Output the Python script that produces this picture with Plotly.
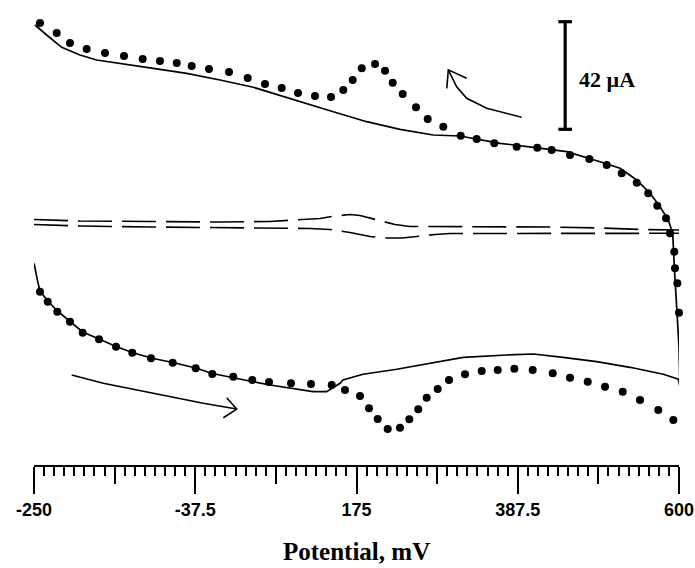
import plotly.graph_objects as go

# ---------------- data (potential in mV, current in µA) ----------------
# dotted curve (CV with analyte), full scan: forward (lower) -> vertex -> reverse (upper)
dot_mv = [-242.1, -231.9, -219.3, -202.6, -185.8, -164.3, -141.9, -120.5, -95.8, -67.2,
          -36.9, -15.0, 12.6, 37.7, 59.7, 88.7, 115.0, 142.3, 159.8, 179.6,
          191.5, 202.9, 216.1, 232.3, 244.6, 256.4, 267.5, 282.0, 296.9, 318.0,
          340.0, 361.1, 383.0, 407.2, 433.6, 456.4, 479.7, 502.5, 525.8, 548.6,
          572.7, 592.5, 600.4, 600.4, 601.3, 600.0, 597.8, 594.7, 593.8, 588.1,
          582.9, 571.4, 559.5, 544.3, 524.5, 504.7, 481.8, 456.4, 432.2, 413.3,
          386.1, 356.6, 333.4, 312.3, 289.4, 268.8, 253.4, 235.9, 222.7, 212.6,
          199.4, 181.9, 170.0, 157.6, 141.4, 120.3, 97.9, 76.4, 54.4, 31.6,
          7.0, -19.4, -42.2, -61.9, -84.0, -106.8, -131.4, -156.4, -180.6, -202.6,
          -220.1, -242.1]
dot_ua = [-24.08, -27.99, -31.89, -35.79, -40.09, -42.66, -45.55, -47.89, -50.08, -51.80,
          -53.98, -56.21, -57.26, -58.55, -59.33, -59.84, -60.11, -60.50, -62.45, -64.79,
          -69.59, -73.77, -77.67, -77.17, -73.89, -69.98, -65.46, -62.06, -58.55, -56.32,
          -55.04, -54.64, -54.14, -54.64, -55.93, -57.65, -59.21, -61.16, -63.11, -66.35,
          -70.26, -74.16, -66.35, -53.59, -43.99, -32.28, -20.80, -14.95, -8.47, -1.29,
          4.57, 9.48, 14.32, 18.46, 22.13, 25.37, 27.71, 29.27, 31.23, 32.12,
          32.51, 33.84, 35.52, 36.81, 40.32, 43.33, 47.89, 53.08, 57.49, 62.18,
          64.79, 63.11, 58.55, 54.64, 51.91, 52.30, 53.47, 55.42, 56.99, 59.33,
          61.67, 62.84, 64.01, 65.18, 65.96, 66.74, 67.92, 69.09, 70.65, 72.99,
          76.89, 80.80]

# solid curve (CV), full scan
solid_mv = [-250.0, -248.0, -244.7, -242.1, -231.9, -219.3, -202.6, -185.8, -164.3, -141.9,
            -120.5, -95.8, -67.2, -36.9, -15.0, 12.6, 37.3, 61.0, 88.7, 117.7,
            135.7, 153.3, 157.2, 183.6, 228.0, 271.9, 315.7, 372.9, 408.0, 447.1,
            491.5, 535.4, 579.3, 599.1, 601.3, 600.0, 597.0, 593.8, 591.7, 585.9,
            575.0, 561.8, 544.3, 522.3, 495.9, 452.0, 408.0, 364.1, 311.4, 276.2,
            232.3, 188.4, 144.4, 100.5, 39.0, -4.9, -48.8, -92.8, -136.7, -167.4,
            -189.4, -213.5, -233.3, -248.7]
solid_ua = [-13.00, -16.39, -20.69, -23.81, -27.71, -31.62, -35.52, -39.81, -42.54, -45.47,
            -47.81, -49.96, -51.72, -53.86, -56.01, -57.77, -59.13, -60.50, -61.87, -63.11,
            -63.11, -59.84, -58.55, -56.32, -54.37, -52.03, -49.69, -48.79, -48.40, -49.69,
            -51.41, -53.59, -56.32, -58.27, -61.08, -45.55, -32.40, -14.32, -1.29, 3.90,
            9.09, 14.32, 19.52, 24.08, 26.66, 30.56, 32.28, 33.84, 36.69, 37.08,
            39.30, 42.27, 46.17, 50.08, 55.70, 58.55, 61.16, 63.11, 65.07, 66.35,
            68.31, 71.31, 76.11, 80.02]

# dashed curve (background CV): upper and lower branches
dash_mv = [-250.0, -189.4, -97.1, -4.9, 61.0, 100.5, 126.9, 146.7, 166.4, 179.6,
           199.4, 225.7, 245.5, 298.2, 364.1, 430.0, 495.9, 548.6, 601.3]
dash_up_ua = [4.10, 3.51, 3.32, 3.12, 3.32, 3.90, 4.49, 5.46, 6.05, 5.66,
              4.10, 2.15, 1.37, 1.29, 1.29, 1.17, 0.78, 0.20, 0.00]
dash_lo_mv = [-250.0, -189.4, -97.1, -4.9, 61.0, 113.7, 140.1, 166.4, 192.8, 212.6,
              235.0, 256.1, 278.5, 298.2, 364.1, 430.0, 495.9, 548.6, 601.3]
dash_lo_ua = [2.15, 1.56, 1.17, 0.98, 0.78, 0.59, 0.20, -0.98, -2.54, -3.12,
              -3.12, -2.34, -1.76, -1.37, -1.37, -1.29, -1.29, -1.29, -1.29]

# axis ticks
major_ticks = [-250, -37.5, 175, 387.5, 600]
major_labels = ["-250", "-37.5", "175", "387.5", "600"]
medium_ticks = [-143.75, 68.75, 281.25, 493.75]
minor_step = 13.28125

# decorations (data coords)
arrow_low_mv = [-200.3, -158.7, -92.8, -26.9, 17.1]
arrow_low_ua = [-56.6, -59.8, -63.7, -67.6, -69.9]
arrow_low_head_mv = [4.0, 17.1, -0.5]
arrow_low_head_ua = [-65.5, -69.9, -73.3]
arrow_up_mv = [392.7, 346.6, 320.2, 307.0, 296.0]
arrow_up_ua = [44.0, 47.5, 51.4, 55.9, 62.5]
arrow_up_head_mv = [320.2, 296.0, 294.0]
arrow_up_head_ua = [59.2, 62.5, 55.3]
scale_mv = 450.0
scale_lo, scale_hi = 39.3, 81.3
scale_cap = 9.0
scale_label = "42 µA"

X_RANGE = [-250, 600]
Y_RANGE = [-91.73, 89.77]

fig = go.Figure()

fig.add_trace(go.Scatter(x=dash_mv, y=dash_up_ua, mode="lines",
                         line=dict(color="black", width=1.6, dash="34px,10px"),
                         hoverinfo="skip", showlegend=False))
fig.add_trace(go.Scatter(x=dash_lo_mv, y=dash_lo_ua, mode="lines",
                         line=dict(color="black", width=1.6, dash="34px,10px"),
                         hoverinfo="skip", showlegend=False))
fig.add_trace(go.Scatter(x=solid_mv, y=solid_ua, mode="lines",
                         line=dict(color="black", width=1.7),
                         cliponaxis=False, hoverinfo="skip", showlegend=False))
fig.add_trace(go.Scatter(x=dot_mv, y=dot_ua, mode="markers",
                         marker=dict(color="black", size=8, symbol="circle"),
                         cliponaxis=False, hoverinfo="skip", showlegend=False))
# helper trace for the medium-tick axis
fig.add_trace(go.Scatter(x=[None], y=[None], xaxis="x2", mode="markers",
                         hoverinfo="skip", showlegend=False))


def path_of(xs, ys):
    return "M " + " L ".join(f"{a},{b}" for a, b in zip(xs, ys))


shapes = []
for xs, ys in [(arrow_low_mv, arrow_low_ua), (arrow_low_head_mv, arrow_low_head_ua),
               (arrow_up_mv, arrow_up_ua), (arrow_up_head_mv, arrow_up_head_ua)]:
    shapes.append(dict(type="path", xref="x", yref="y", path=path_of(xs, ys),
                       line=dict(color="black", width=1.6)))
shapes.append(dict(type="line", xref="x", yref="y", x0=scale_mv, x1=scale_mv,
                   y0=scale_lo, y1=scale_hi, line=dict(color="black", width=3.2)))
for yv in (scale_lo, scale_hi):
    shapes.append(dict(type="line", xref="x", yref="y", x0=scale_mv - scale_cap,
                       x1=scale_mv + scale_cap, y0=yv, y1=yv,
                       line=dict(color="black", width=3.2)))

fig.update_layout(
    width=695, height=568,
    margin=dict(l=34, r=16, t=0, b=103),
    paper_bgcolor="white", plot_bgcolor="white",
    shapes=shapes,
    xaxis=dict(range=X_RANGE, showgrid=False, zeroline=False,
               showline=True, linecolor="black", linewidth=2,
               tickmode="array", tickvals=major_ticks, ticktext=major_labels,
               ticks="outside", ticklen=27, tickwidth=2, tickcolor="black",
               ticklabelstandoff=0,
               tickfont=dict(family="Liberation Sans", size=18, color="black",
                             weight="bold"),
               minor=dict(ticks="outside", ticklen=9, tickwidth=2, tickcolor="black",
                          tick0=-250, dtick=minor_step, showgrid=False)),
    xaxis2=dict(range=X_RANGE, overlaying="x", anchor="y", side="bottom",
                showgrid=False, zeroline=False, showline=False,
                tickmode="array", tickvals=medium_ticks, showticklabels=False,
                ticks="outside", ticklen=18, tickwidth=2, tickcolor="black"),
    yaxis=dict(range=Y_RANGE, visible=False, showgrid=False, zeroline=False),
    annotations=[
        dict(xref="paper", yref="paper", x=0.5, y=-0.185, xanchor="center",
             yanchor="middle", showarrow=False, text="Potential, mV",
             font=dict(family="Liberation Serif", size=25, color="black",
                       weight="bold")),
        dict(xref="x", yref="y", x=465, y=58.9, xanchor="left", yanchor="middle",
             showarrow=False, text=scale_label,
             font=dict(family="Liberation Serif", size=22, color="black",
                       weight="bold")),
    ],
)

fig.write_html("out.html")
